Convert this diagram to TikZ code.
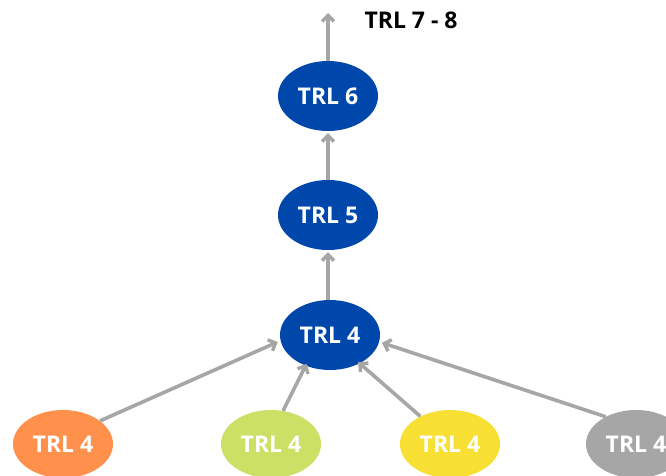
\documentclass[tikz,border=0pt]{standalone}
\usepackage{fontspec}
\setmainfont{Open Sans}
\usetikzlibrary{arrows.meta,shapes.geometric}
\definecolor{nodeblue}{RGB}{0,71,171}
\definecolor{arrgray}{RGB}{166,166,166}
\definecolor{corange}{RGB}{255,145,77}
\definecolor{cgreen}{RGB}{204,224,102}
\definecolor{cyellow}{RGB}{247,224,51}
\definecolor{cgray}{RGB}{166,166,166}
\tikzset{
  trl/.style={ellipse, inner sep=0pt, minimum width=100pt, minimum height=70pt,
    text=white, font=\fontsize{23}{27}\selectfont\bfseries},
  link/.style={draw=arrgray, line width=3.6pt, -{Straight Barb[length=6pt,width=12pt,line width=3.4pt]}},
}
\begin{document}
\begin{tikzpicture}[x=1pt,y=-1pt]
\useasboundingbox (0,0) rectangle (666,476);
\node[trl, fill=nodeblue] (b6) at (328,96) {TRL 6};
\node[trl, fill=nodeblue] (b5) at (328,215) {TRL 5};
\node[trl, fill=nodeblue] (b4) at (330,335) {TRL 4};
\node[trl, fill=corange, minimum height=68pt] (o) at (63,444) {TRL 4};
\node[trl, fill=cgreen, minimum height=68pt] (g) at (271,444) {TRL 4};
\node[trl, fill=cyellow, minimum height=68pt] (y) at (450,444) {TRL 4};
\node[trl, fill=cgray, minimum height=68pt] (r) at (636,444) {TRL 4};
\coordinate (top) at (328,13);
\node[anchor=west, font=\fontsize{23}{27}\selectfont\bfseries] (lbl) at (361,20) {TRL 7 - 8};
\draw[link] (b6.north) -- (top);
\draw[link] (b5.north) -- ([yshift=-2pt]b6.south);
\draw[link] (b5.south |- b4.north) -- ([yshift=-2pt]b5.south);
\draw[link] (o.32) -- ([xshift=-3pt]b4.188);
\draw[link] (g.70) -- ([shift={(-2pt,3pt)}]b4.236);
\draw[link] (y.137) -- ([shift={(2pt,3pt)}]b4.311);
\draw[link] (r.138) -- ([xshift=3pt]b4.351);
\end{tikzpicture}
\end{document}
